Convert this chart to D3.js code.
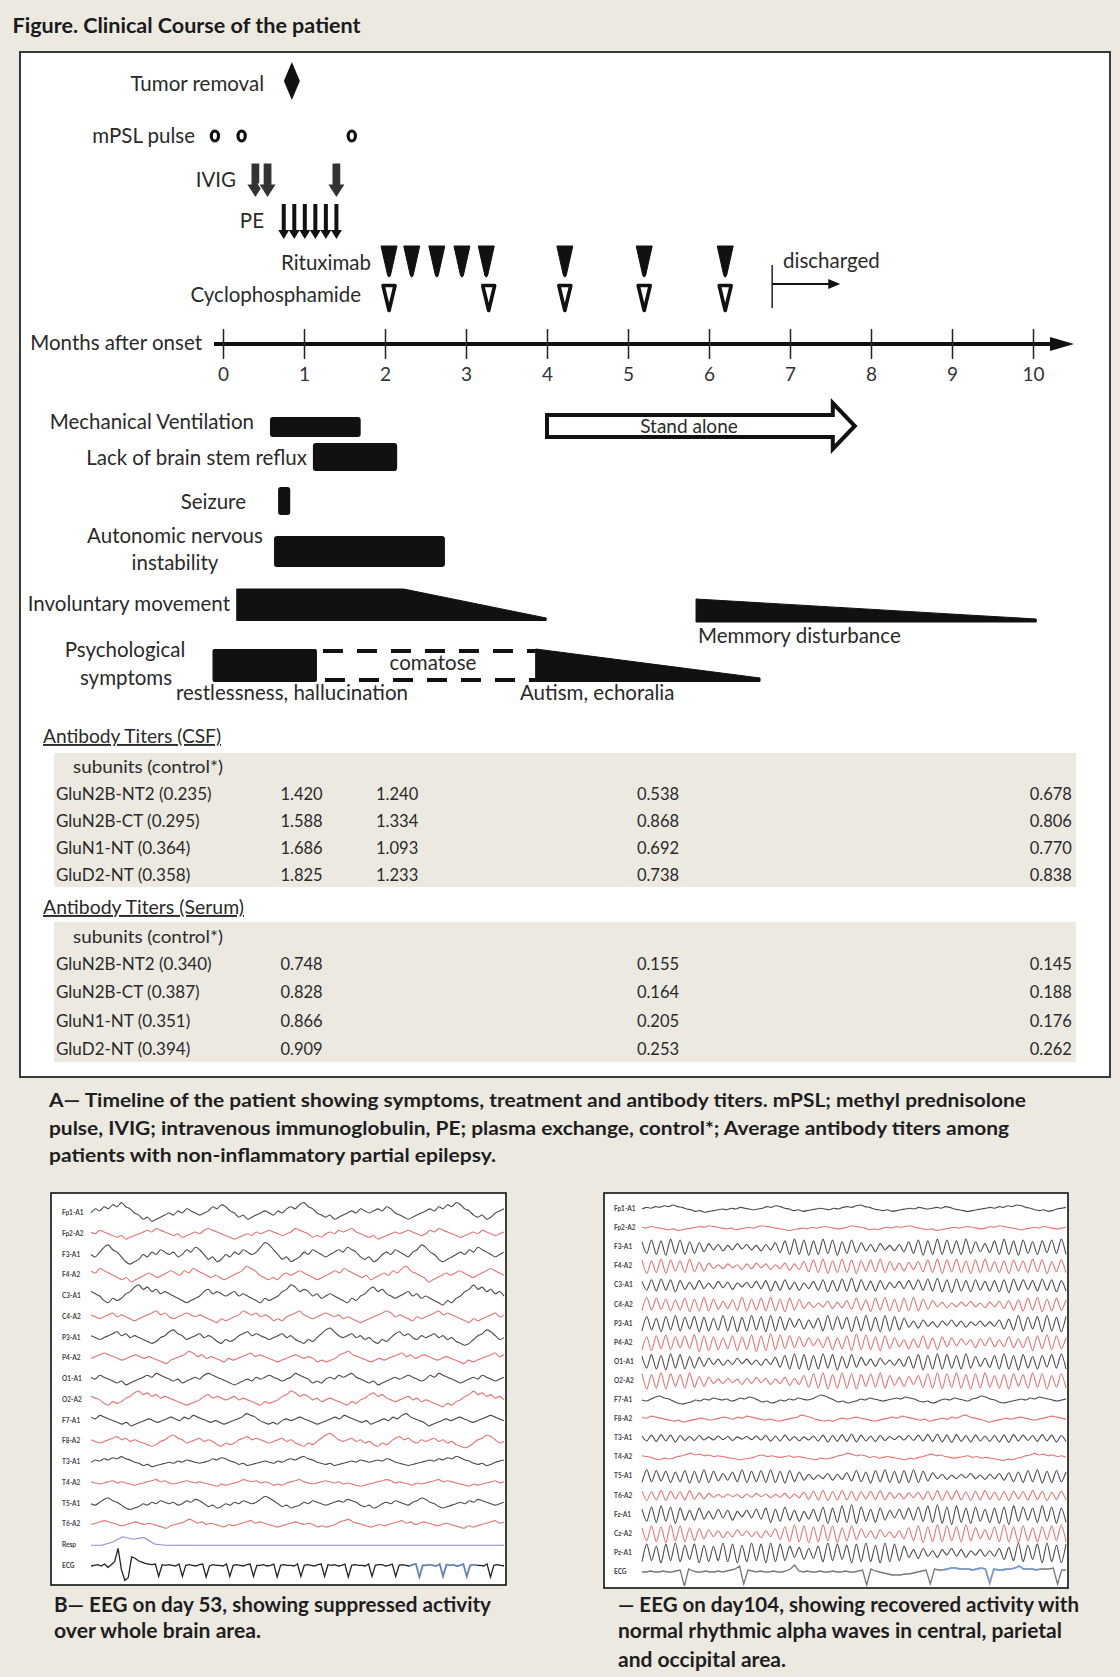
<!DOCTYPE html>
<html><head><meta charset="utf-8">
<script src="https://cdn.jsdelivr.net/npm/d3@7"></script>
<style>
html,body{margin:0;padding:0;background:#ECE9E0;}
svg{display:block;font-family:Lato,"Open Sans",sans-serif;}
</style></head><body>
<svg id="chart" width="1120" height="1677"></svg>
<script>
// ---------------- DATA ----------------
const monthTicks = [0,1,2,3,4,5,6,7,8,9,10];
const tumorRemoval = [0.85];
const mpslPulse = [-0.1, 0.23, 1.59];
const ivig = [0.40, 0.55, 1.40];
const plasmaExchange = [0.75, 0.88, 1.01, 1.14, 1.27, 1.40];
const rituximab = [2.05, 2.33, 2.64, 2.95, 3.25, 4.22, 5.2, 6.2];
const cyclophosphamide = [2.05, 3.28, 4.22, 5.2, 6.2];
const discharged = [6.78, 7.62];
const standAlone = [4.0, 7.8];
const symptomBars = [
  {name:"Mechanical Ventilation", start:0.58, end:1.70},
  {name:"Lack of brain stem reflux", start:1.11, end:2.15},
  {name:"Seizure", start:0.68, end:0.83},
  {name:"Autonomic nervous instability", start:0.63, end:2.74}
];
const involuntaryMovement = [0.17, 2.23, 3.99]; // start, plateau end, end
const restlessness = [-0.13, 1.16];
const comatose = [1.16, 3.86];
const autism = [3.86, 6.63];
const memoryDisturbance = [5.84, 10.04];

const titerMonths = [0.97, 2.15, 5.37, 10.22];
const csfLabels = ["GluN2B-NT2 (0.235)","GluN2B-CT (0.295)","GluN1-NT (0.364)","GluD2-NT (0.358)"];
const csfValues = [[1.420,1.240,0.538,0.678],[1.588,1.334,0.868,0.806],[1.686,1.093,0.692,0.770],[1.825,1.233,0.738,0.838]];
const serumLabels = ["GluN2B-NT2 (0.340)","GluN2B-CT (0.387)","GluN1-NT (0.351)","GluD2-NT (0.394)"];
const serumValues = [[0.748,null,0.155,0.145],[0.828,null,0.164,0.188],[0.866,null,0.205,0.176],[0.909,null,0.253,0.262]];

// EEG sample traces
const L1 = [0,2,1,3,2,4,3,5,3,2,0,-1,-3,-2,-4,-3,-2,-1,0,-1,1,0,2,1,0,-1,0,1,3,2,4,3,1,0,-2,-1,-3,-2,-1,0,1,0,-1,1,0,2,3,2,4,5,3,2,0,-1,-2,-1,-3,-2,-1,0,1,0,2,1,0,1,2,1,3,2,0,-1,-2,-3,-2,-1,0,1,2,1,3,2,4,3,5,4,2,1,-1,-2,-1,-3,-2,0,1,2];
const L2 = [1,0,2,1,0,-1,-2,-1,-3,-2,-1,0,1,2,1,3,2,1,0,-1,0,-2,-1,0,1,0,2,3,2,1,0,-1,-2,-3,-2,-1,0,-1,1,0,1,2,1,0,-1,0,1,3,2,1,0,-2,-1,-2,0,1,0,2,1,2,3,1,0,-1,-2,-1,-3,-2,-1,0,1,0,1,2,1,0,-1,0,2,1,3,2,1,0,-1,-2,-1,0,1,0,2,1,0,-1,0,1];
const L3 = [0,-1,1,3,4,2,1,-1,-3,-4,-3,-2,0,-1,1,0,2,1,0,1,-1,0,2,1,3,2,0,-2,-1,-3,-2,0,-1,1,0,2,1,0,1,3,5,4,2,0,-2,-1,-3,-2,-1,1,0,2,1,0,-1,0,1,2,1,3,2,1,-1,-2,-1,-3,-2,0,1,0,2,1,0,-1,1,2,4,3,1,0,-2,-3,-2,-1,0,1,0,2,1,3,2,1,0,-1,0,1];
const L4 = [2,1,3,2,1,0,-1,-2,-1,-3,-2,-1,0,1,0,-1,0,1,2,1,0,2,1,3,2,1,0,-1,0,-1,-2,-1,0,1,2,4,3,2,0,-1,-2,-1,-2,0,1,0,1,2,1,0,-1,-2,-1,0,1,2,1,3,2,1,0,-1,0,-2,-1,0,1,0,2,1,3,4,2,1,0,-1,-3,-2,-1,0,1,0,1,2,1,0,-1,0,1,2,3,2,1,0];
const R1 = [6,-7,8,-8,7,-9,9,-7,8,-8,6,-7,5,-5,4,-3,3,-4,2,-3,4,-2,3,-3,2,-4,3,-3,5,-6,7,-8,9,-8,8,-9,7,-8,9,-7,8,-9,6,-7,8,-6,5,-4,3,-5,4,-3,2,-4,3,-5,6,-7,8,-9,7,-8,9,-8,8,-7,7,-8,9,-7,6,-5,4,-6,7,-8,9,-8,7,-9,8,-7,6,-8,7,-6,8,-7,9,-8];
const R2 = [8,-9,7,-8,9,-9,8,-6,7,-8,9,-7,5,-6,4,-3,2,-3,3,-2,2,-4,3,-3,4,-2,3,-4,2,-3,4,-5,3,-4,6,-7,8,-8,9,-9,7,-8,9,-8,8,-9,7,-6,8,-7,9,-8,6,-5,4,-6,5,-4,6,-7,8,-8,9,-9,8,-7,9,-8,7,-9,8,-8,9,-7,6,-8,7,-9,8,-6,7,-8,9,-7,8,-9,6,-7,8,-8];
const R3 = [5,-6,7,-7,8,-6,7,-8,6,-5,4,-5,6,-4,3,-4,5,-3,4,-5,3,-2,4,-3,5,-4,6,-7,5,-6,7,-5,4,-6,3,-4,5,-6,7,-8,6,-7,8,-7,9,-8,7,-6,5,-7,6,-5,4,-3,5,-4,6,-5,7,-6,8,-7,9,-8,7,-9,8,-7,6,-8,7,-6,5,-7,6,-8,7,-9,8,-6,7,-5,6,-7,8,-6,7,-8,6,-7];
const respLeft = [0,0,5,14,10,13,2,0,0,0,0,0,0,0,0,0,0,0,0,0,0,0,0,0,0,0,0,0,0,0,0,0,0,0,0,0,0,0,0,0];
const ecgLeft = [0,1,2,0,3,-2,2,7,27,-6,-22,-18,14,12,8,6,4,3,2,3,-16,2,1,2,1,0,3,-16,1,2,1,0,2,3,-17,0,2,1,1,0,3,-16,1,2,1,0,2,3,-16,1,1,2,0,1,3,-17,1,2,1,1,0,3,-16,1,2,1,0,2,3,-16,2,1,2,0,1,3,-17,1,2,1,1,0,3,-16,1,2,2,0,1,3,-16,1,2,1,0,2,3,-17,1,1,2,1,0,3,-16,2,1,2,0,1,3,-16,1,2,1,1,0,3,-17,1,2,1,0];
const ecgRight = [0,0,1,0,0,1,0,0,1,2,-14,3,1,0,0,1,0,0,1,0,1,2,3,6,-12,2,1,0,1,0,0,1,0,0,1,3,7,1,0,1,0,0,1,0,0,1,0,0,1,0,0,1,2,-13,3,1,0,-1,-2,-3,-3,-3,-2,-2,-1,0,1,2,-12,3,2,2,3,4,4,3,3,3,2,3,4,3,-11,3,2,2,3,3,4,6,3,3,3,2,3,3,3,4,-12,2,2];

const leftChannels = [
 {label:"Fp1-A1", wave:L1, amp:1.3}, {label:"Fp2-A2", wave:L2, amp:1.1},
 {label:"F3-A1", wave:L3, amp:1.5}, {label:"F4-A2", wave:L4, amp:1.4},
 {label:"C3-A1", wave:L1, amp:1.4, rev:true}, {label:"C4-A2", wave:L2, amp:1.2, rev:true},
 {label:"P3-A1", wave:L3, amp:1.2, rev:true}, {label:"P4-A2", wave:L4, amp:1.1, rev:true},
 {label:"O1-A1", wave:L2, amp:1.2}, {label:"O2-A2", wave:L1, amp:1.1, rev:true},
 {label:"F7-A1", wave:L4, amp:1.1}, {label:"F8-A2", wave:L3, amp:1.0, rev:true},
 {label:"T3-A1", wave:L1, amp:0.7}, {label:"T4-A2", wave:L2, amp:0.7, rev:true},
 {label:"T5-A1", wave:L3, amp:0.9}, {label:"T6-A2", wave:L4, amp:0.8, rev:true},
 {label:"Resp", wave:respLeft, amp:0.6, kind:"resp"}, {label:"ECG", wave:ecgLeft, amp:0.65, kind:"ecg"}
];
const rightChannels = [
 {label:"Fp1-A1", wave:L1, amp:0.8}, {label:"Fp2-A2", wave:L2, amp:0.8},
 {label:"F3-A1", wave:R1, amp:0.9}, {label:"F4-A2", wave:R2, amp:0.8},
 {label:"C3-A1", wave:R3, amp:0.8}, {label:"C4-A2", wave:R1, amp:0.8, rev:true},
 {label:"P3-A1", wave:R2, amp:0.9, rev:true}, {label:"P4-A2", wave:R3, amp:1.0, rev:true},
 {label:"O1-A1", wave:R1, amp:0.9}, {label:"O2-A2", wave:R2, amp:0.9},
 {label:"F7-A1", wave:L3, amp:1.0}, {label:"F8-A2", wave:L4, amp:1.0},
 {label:"T3-A1", wave:R3, amp:0.45}, {label:"T4-A2", wave:L1, amp:0.8, rev:true},
 {label:"T5-A1", wave:R1, amp:0.75, rev:true}, {label:"T6-A2", wave:R2, amp:0.55},
 {label:"Fz-A1", wave:R3, amp:1.1}, {label:"Cz-A2", wave:R1, amp:1.0},
 {label:"Pz-A1", wave:R2, amp:1.1, rev:true}, {label:"ECG", wave:ecgRight, amp:1.0, kind:"ecg"}
];
const ecgLeftBlue = [94, 114];
const ecgRightBlue = [71, 94];

// ---------------- DRAW ----------------
const svg = d3.select("#chart");
const INK = "#2a2a2a";
svg.append("rect").attr("width",1120).attr("height",1677).attr("fill","#ECE9E0");

svg.append("text").attr("x",12.5).attr("y",33).attr("font-size",20).attr("font-weight","bold")
  .attr("fill","#1a1a1a").attr("textLength",348).attr("lengthAdjust","spacingAndGlyphs")
  .text("Figure. Clinical Course of the patient");

svg.append("rect").attr("x",20).attr("y",52).attr("width",1090).attr("height",1025)
  .attr("fill","#fff").attr("stroke","#3a3a3a").attr("stroke-width",2);

const x = d3.scaleLinear().domain([0,10]).range([223,1033]);

function label(t, xx, yy, anchor, size){
  return svg.append("text").attr("x",xx).attr("y",yy).attr("text-anchor",anchor||"end")
    .attr("font-size",size||20.5).attr("fill",INK).text(t);
}
label("Tumor removal",264,91);
label("mPSL pulse",195,143);
label("IVIG",236,187);
label("PE",264,228);
label("Rituximab",371,270);
label("Cyclophosphamide",361,302);
label("Months after onset",202,350);

// tumor removal diamond
svg.selectAll(".tumor").data(tumorRemoval).join("path")
  .attr("d",d=>`M${x(d)},62 L${x(d)+8},81 L${x(d)},100 L${x(d)-8},81 Z`).attr("fill","#111");
// mPSL rings
svg.selectAll(".mpsl").data(mpslPulse).join("ellipse")
  .attr("cx",d=>x(d)).attr("cy",136).attr("rx",3.6).attr("ry",5)
  .attr("fill","#fff").attr("stroke","#111").attr("stroke-width",3.2);
// IVIG block arrows
svg.selectAll(".ivig").data(ivig).join("path")
  .attr("d",d=>{const c=x(d);return `M${c-4.5},163 H${c+4.5} V184 H${c+9} L${c},198 L${c-9},184 H${c-4.5} Z`;})
  .attr("fill","#333").attr("stroke","#fff").attr("stroke-width",1.2);
// PE thin arrows
const peG = svg.append("g");
peG.selectAll("rect").data(plasmaExchange).join("rect")
  .attr("x",d=>x(d)-2).attr("y",204).attr("width",4).attr("height",28).attr("fill","#111");
peG.selectAll("path").data(plasmaExchange).join("path")
  .attr("d",d=>`M${x(d)-5.5},230 L${x(d)+5.5},230 L${x(d)},239 Z`).attr("fill","#111");
// Rituximab filled triangles
svg.selectAll(".rtx").data(rituximab).join("path")
  .attr("d",d=>{const c=x(d);return `M${c-8},246 L${c+8},246 L${c+1.5},275 Q${c},279 ${c-1.5},275 Z`;})
  .attr("fill","#111").attr("stroke","#111").attr("stroke-width",1).attr("stroke-linejoin","round");
// Cyclophosphamide open triangles
svg.selectAll(".cy").data(cyclophosphamide).join("path")
  .attr("d",d=>{const c=x(d);return `M${c-6},285.5 L${c+6},285.5 L${c},310.5 Z`;})
  .attr("fill","#fff").attr("stroke","#111").attr("stroke-width",3.6).attr("stroke-linejoin","round");
// discharged
svg.append("line").attr("x1",x(discharged[0])).attr("x2",x(discharged[0])).attr("y1",265).attr("y2",308)
  .attr("stroke","#222").attr("stroke-width",1.5);
svg.append("line").attr("x1",x(discharged[0])).attr("x2",x(discharged[1])-8).attr("y1",284).attr("y2",284)
  .attr("stroke","#111").attr("stroke-width",2.2);
svg.append("path").attr("d",`M${x(discharged[1])},284 L${x(discharged[1])-12},279 L${x(discharged[1])-12},289 Z`).attr("fill","#111");
label("discharged",783,268,"start");

// axis
svg.append("line").attr("x1",214).attr("x2",1058).attr("y1",344).attr("y2",344).attr("stroke","#111").attr("stroke-width",4);
svg.append("path").attr("d","M1050,337 L1074,344 L1050,351 Z").attr("fill","#111");
const ax = svg.append("g").attr("transform","translate(0,344)")
  .call(d3.axisBottom(x).tickValues(monthTicks).tickSize(15).tickFormat(d3.format("d")));
ax.select(".domain").remove();
ax.selectAll(".tick line").attr("y1",-15).attr("y2",15).attr("stroke","#222").attr("stroke-width",1.5);
ax.selectAll(".tick text").attr("y",37).attr("dy",0).attr("font-size",19).attr("fill","#333")
  .attr("font-family","Lato,'Open Sans',sans-serif");

// symptoms
label("Mechanical Ventilation",254,429);
label("Lack of brain stem reflux",307,465);
label("Seizure",246,509);
label("Autonomic nervous",175,543,"middle");
label("instability",175,570,"middle");
label("Involuntary movement",230,611);
label("Psychological",125,657,"middle");
label("symptoms",126,685,"middle");

const barRows = [[417,20],[443,28],[487,28],[536,31]];
svg.selectAll(".bar").data(symptomBars).join("rect")
  .attr("x",d=>x(d.start)).attr("width",d=>x(d.end)-x(d.start))
  .attr("y",(d,i)=>barRows[i][0]).attr("height",(d,i)=>barRows[i][1])
  .attr("rx",3).attr("fill","#111");

const im = involuntaryMovement;
svg.append("path").attr("d",`M${x(im[0])},589 L${x(im[1])},589 L${x(im[2])},618 L${x(im[2])},620.5 L${x(im[0])},620.5 Z`)
  .attr("fill","#111").attr("stroke","#111").attr("stroke-linejoin","round").attr("stroke-width",1);

svg.append("rect").attr("x",x(restlessness[0])).attr("width",x(restlessness[1])-x(restlessness[0]))
  .attr("y",649).attr("height",33).attr("rx",2).attr("fill","#111");
svg.append("line").attr("x1",x(comatose[0])+6).attr("x2",x(comatose[1])).attr("y1",651).attr("y2",651)
  .attr("stroke","#111").attr("stroke-width",4).attr("stroke-dasharray","20,14");
svg.append("line").attr("x1",x(comatose[0])).attr("x2",x(comatose[1])).attr("y1",680).attr("y2",680)
  .attr("stroke","#111").attr("stroke-width",4).attr("stroke-dasharray","20,14").attr("stroke-dashoffset",-8);
svg.append("path").attr("d",`M${x(autism[0])},649 L${x(autism[1])},678 L${x(autism[1])},681.5 L${x(autism[0])},681.5 Z`)
  .attr("fill","#111").attr("stroke","#111").attr("stroke-linejoin","round");
label("comatose",433,670,"middle");
label("restlessness,  hallucination",176,700,"start");
label("Autism, echoralia",520,700,"start");

svg.append("path").attr("d",`M${x(memoryDisturbance[0])},599 L${x(memoryDisturbance[1])},619 L${x(memoryDisturbance[1])},622 L${x(memoryDisturbance[0])},622 Z`)
  .attr("fill","#111").attr("stroke","#111").attr("stroke-linejoin","round");
label("Memmory disturbance",698,643,"start");

const sa0 = x(standAlone[0]), sa1 = x(standAlone[1]);
svg.append("path").attr("d",`M${sa0},415 H${sa1-22} V403 L${sa1},426 L${sa1-22},449 V437 H${sa0} Z`)
  .attr("fill","#fff").attr("stroke","#111").attr("stroke-width",4);
label("Stand alone",689,433,"middle",19);

// tables
function table(title, titleY, titleLen, boxY0, boxY1, subY, rowY0, rowY1, labels, values){
  svg.append("text").attr("x",43).attr("y",titleY).attr("font-size",19).attr("fill",INK)
    .attr("textLength",titleLen).attr("lengthAdjust","spacingAndGlyphs")
    .attr("text-decoration","underline").text(title);
  svg.append("rect").attr("x",54).attr("y",boxY0).attr("width",1022).attr("height",boxY1-boxY0).attr("fill","#ECE9E1");
  svg.append("text").attr("x",73).attr("y",subY).attr("font-size",17).attr("fill",INK)
    .attr("textLength",150).attr("lengthAdjust","spacingAndGlyphs").text("subunits (control*)");
  const ry = d3.scalePoint().domain(labels).range([rowY0,rowY1]);
  svg.append("g").selectAll("text").data(labels).join("text")
    .attr("x",56).attr("y",d=>ry(d)).attr("font-size",17).attr("fill",INK).text(d=>d);
  labels.forEach((lab,i)=>{
    svg.append("g").selectAll("text").data(values[i].map((v,j)=>({v,m:titerMonths[j]})).filter(d=>d.v!==null)).join("text")
      .attr("x",d=>x(d.m)).attr("y",ry(lab)).attr("text-anchor","middle").attr("font-size",16.5).attr("fill",INK)
      .text(d=>d3.format(".3f")(d.v));
  });
}
table("Antibody Titers (CSF)",743,178,753,887,773,800,881,csfLabels,csfValues);
table("Antibody Titers (Serum)",914,201,922,1062,943,970,1055,serumLabels,serumValues);

// captions
function cap(t, xx, yy, len, size){
  svg.append("text").attr("x",xx).attr("y",yy).attr("font-size",size||19).attr("font-weight","bold")
    .attr("fill","#1e1e1e").attr("textLength",len).attr("lengthAdjust","spacingAndGlyphs").text(t);
}
cap("A\u2014 Timeline of the patient showing symptoms, treatment and antibody titers. mPSL; methyl prednisolone",49,1107,977);
cap("pulse, IVIG; intravenous immunoglobulin, PE; plasma exchange, control*; Average antibody titers among",49,1135,960);
cap("patients with non-inflammatory partial epilepsy.",49,1162,447);
cap("B\u2014 EEG on day 53, showing suppressed activity",54,1612,437,20);
cap("over whole brain area.",54,1638,207,20);
cap("\u2014 EEG on day104, showing recovered activity with",618,1612,461,20);
cap("normal rhythmic alpha waves in central, parietal",618,1638,444,20);
cap("and occipital area.",618,1667,168,20);

// EEG panels
function eeg(chs, bx0, by0, bx1, by1, lx, tx0, ry0, ry1, unit, blueRange){
  svg.append("rect").attr("x",bx0).attr("y",by0).attr("width",bx1-bx0).attr("height",by1-by0)
    .attr("fill","#fff").attr("stroke","#111").attr("stroke-width",1.6);
  const ry = d3.scalePoint().domain(chs.map(c=>c.label)).range([ry0,ry1]);
  const g = svg.append("g");
  chs.forEach((c,i)=>{
    const vals = c.rev ? c.wave.slice().reverse() : c.wave;
    const sx = d3.scaleLinear().domain([0,vals.length-1]).range([tx0,bx1-2]);
    const color = c.kind==="ecg" ? (i>17 ? "#777" : "#222") : c.kind==="resp" ? "#8c8cd8" : (i%2===0 ? "#4a4a4a" : "#e57373");
    const u = c.kind ? 1 : unit;
    const line = d3.line().x((d,k)=>sx(k)).y(d=>ry(c.label)-d*c.amp*u).curve(c.kind ? d3.curveLinear : d3.curveCardinal.tension(0.2));
    g.append("path").attr("d",line(vals)).attr("fill","none").attr("stroke",color).attr("stroke-width",c.kind==="ecg"?1.3:1.1);
    if(c.kind==="ecg"){
      const seg = vals.map((d,k)=>[k,d]).filter(p=>p[0]>=blueRange[0]&&p[0]<=blueRange[1]);
      g.append("path").attr("d",d3.line().x(p=>sx(p[0])).y(p=>ry(c.label)-p[1]*c.amp*u)(seg))
        .attr("fill","none").attr("stroke","#7ea7e6").attr("stroke-width",2).attr("opacity",0.7);
    }
    g.append("text").attr("x",lx).attr("y",ry(c.label)+2).attr("font-size",6.5).attr("font-weight","bold")
      .attr("fill","#444").text(c.label);
  });
}
eeg(leftChannels,51,1193,506,1585,62,91,1213,1566,1.6,ecgLeftBlue);
eeg(rightChannels,604,1193,1068,1588,614,642,1209,1572,1.0,ecgRightBlue);
</script></body></html>
